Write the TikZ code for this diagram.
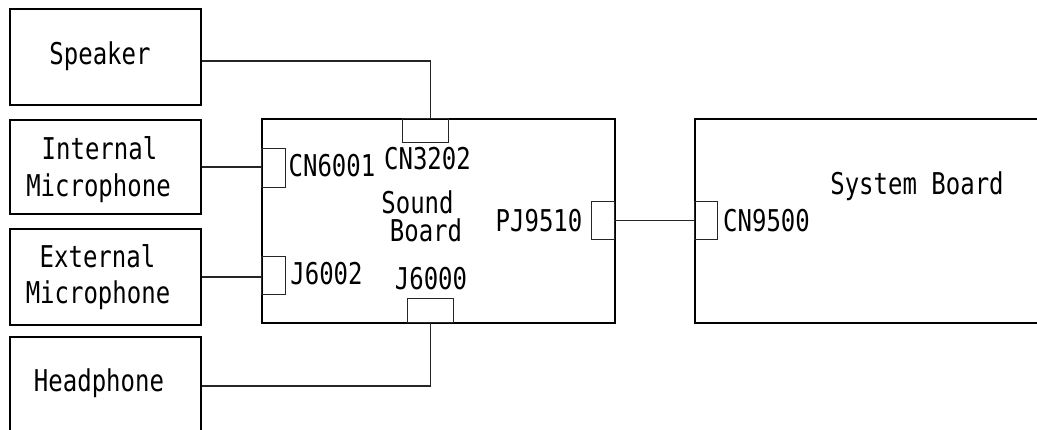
\documentclass[tikz,border=0pt]{standalone}
\usepackage{fontspec}
\newfontfamily\gf[FakeStretch=0.8]{DejaVu Sans Mono}
\begin{document}
\begin{tikzpicture}[x=1pt,y=-1pt,
  board/.style={draw=black,line width=2.4pt,inner sep=0pt,anchor=north west},
  conn/.style={draw=black!85,line width=1.4pt,inner sep=0pt,anchor=north west},
  wire/.style={draw=black!85,line width=1.4pt},
  lbl/.style={font=\gf\fontsize{30}{36}\selectfont,inner sep=0pt,anchor=base}]
\useasboundingbox (0,0) rectangle (1037,430);
\fill[white] (0,0) rectangle (1037,430);
\clip (0,0) rectangle (1037,430);
% component boxes
\node[board,minimum width=191pt,minimum height=96pt] (speaker) at (9,8) {};
\node[board,minimum width=191pt,minimum height=94pt] (intmic) at (9,119) {};
\node[board,minimum width=191pt,minimum height=96pt] (extmic) at (9,228) {};
\node[board,minimum width=191pt,minimum height=98pt] (headph) at (9,336) {};
\node[board,minimum width=353pt,minimum height=204pt] (sound) at (261,118) {};
\node[board,minimum width=360pt,minimum height=204pt] (system) at (694,118) {};
% connectors
\node[conn,minimum width=46pt,minimum height=24pt] (cn3202) at (402,118) {};
\node[conn,minimum width=24pt,minimum height=39pt] (cn6001) at (261,148) {};
\node[conn,minimum width=24pt,minimum height=38pt] (j6002) at (261,256) {};
\node[conn,minimum width=46pt,minimum height=24pt] (j6000) at (407,298) {};
\node[conn,minimum width=23pt,minimum height=38pt] (pj9510) at (591,201) {};
\node[conn,minimum width=23pt,minimum height=38pt] (cn9500) at (694,201) {};
% texts
\node[lbl] (tspeaker) at (100,65) {Speaker};
\node[lbl] (tint) at (99.5,160) {Internal};
\node[lbl] (tintmic) at (98.5,197) {Microphone};
\node[lbl] (text) at (97.5,268) {External};
\node[lbl] (textmic) at (98,304) {Microphone};
\node[lbl] (thead) at (99,392) {Headphone};
\node[lbl] (tcn6001) at (332,177) {CN6001};
\node[lbl] (tcn3202) at (427.5,170) {CN3202};
\node[lbl] (tsound) at (417.5,214) {Sound};
\node[lbl] (tboard) at (426,242) {Board};
\node[lbl] (tj6002) at (326.5,285) {J6002};
\node[lbl] (tj6000) at (431,290) {J6000};
\node[lbl] (tpj) at (539,232) {PJ9510};
\node[lbl] (tcn9500) at (766.5,232) {CN9500};
\node[lbl] (tsys) at (917,195) {System Board};
% wires
\draw[wire] ([yshift=-4pt]speaker.east) -| ([xshift=5pt]cn3202.north);
\draw[wire] (intmic.east) -- (intmic.east -| cn6001.west);
\draw[wire] (extmic.east) -- (extmic.east -| j6002.west);
\draw[wire] (headph.east) -| (j6000.south);
\draw[wire] (pj9510.east) -- (cn9500.west);
\end{tikzpicture}
\end{document}
